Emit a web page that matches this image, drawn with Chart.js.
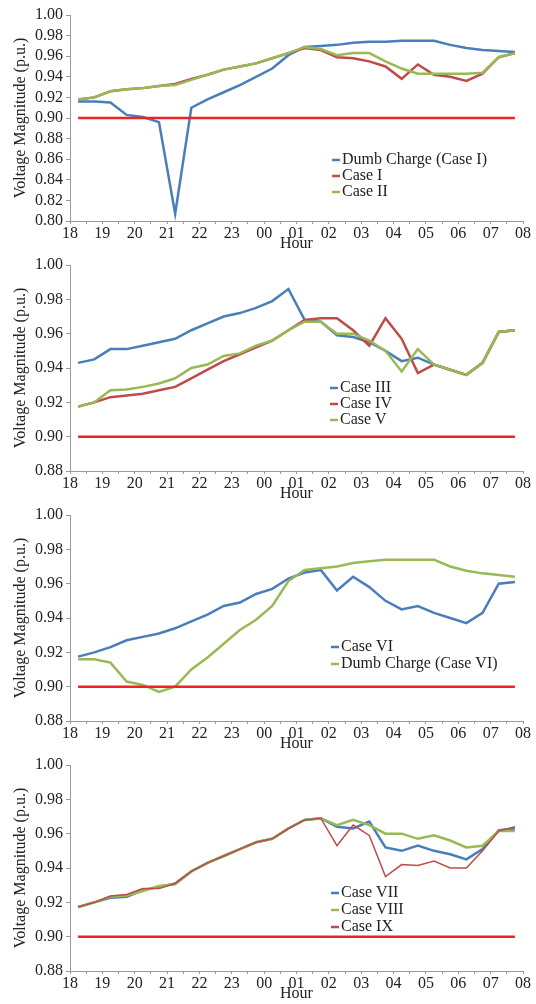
<!DOCTYPE html>
<html>
<head>
<meta charset="utf-8">
<script src="https://cdn.jsdelivr.net/npm/chart.js@4.4.1/dist/chart.umd.min.js"></script>
<style>
html, body { margin: 0; padding: 0; background: #fff; }
.panel { position: absolute; left: 0; width: 536px; height: 250px; }
</style>
</head>
<body>
<div class="panel" style="top:0"><canvas id="c1" width="536" height="250"></canvas></div>
<div class="panel" style="top:250px"><canvas id="c2" width="536" height="250"></canvas></div>
<div class="panel" style="top:500px"><canvas id="c3" width="536" height="250"></canvas></div>
<div class="panel" style="top:750px"><canvas id="c4" width="536" height="250"></canvas></div>
<script>
// x axis: one label per hour, data every half hour
const hourLabels = ['18','19','20','21','22','23','00','01','02','03','04','05','06','07','08'];
const limitLevel = 0.90;

// panel 1
const dumbCase1 = [0.916,0.916,0.915,0.903,0.901,0.896,0.807,0.910,0.918,0.925,0.932,0.940,0.948,0.961,
  0.969,0.970,0.971,0.973,0.974,0.974,0.975,0.975,0.975,0.971,0.968,0.966,0.965,0.964];
const case1 = [0.918,0.920,0.926,0.928,0.929,0.931,0.933,0.938,0.942,0.947,0.950,0.953,0.958,0.963,
  0.968,0.966,0.959,0.958,0.955,0.950,0.938,0.952,0.942,0.940,0.936,0.943,0.959,0.963];
const case2 = [0.918,0.920,0.926,0.928,0.929,0.931,0.932,0.937,0.942,0.947,0.950,0.953,0.958,0.963,
  0.969,0.967,0.961,0.963,0.963,0.955,0.948,0.943,0.943,0.943,0.943,0.944,0.959,0.963];

// panel 2
const case3 = [0.943,0.945,0.951,0.951,0.953,0.955,0.957,0.962,0.966,0.970,0.972,0.975,0.979,0.986,
  0.968,0.967,0.959,0.958,0.955,0.950,0.944,0.946,0.942,0.939,0.936,0.943,0.961,0.962];
const case4 = [0.9175,0.920,0.923,0.924,0.925,0.927,0.929,0.934,0.939,0.944,0.948,0.952,0.956,0.962,
  0.968,0.969,0.969,0.962,0.953,0.969,0.957,0.937,0.942,0.939,0.936,0.943,0.961,0.962];
const case5 = [0.9175,0.920,0.927,0.9275,0.929,0.931,0.934,0.940,0.942,0.947,0.9485,0.953,0.956,0.962,
  0.967,0.967,0.960,0.960,0.956,0.950,0.938,0.951,0.942,0.939,0.936,0.943,0.961,0.962];

// panel 3
const case6 = [0.9175,0.920,0.923,0.927,0.929,0.931,0.934,0.938,0.942,0.947,0.949,0.954,0.957,0.963,
  0.9665,0.968,0.956,0.964,0.958,0.950,0.945,0.947,0.943,0.940,0.937,0.943,0.960,0.961];
const dumbCase6 = [0.916,0.916,0.914,0.903,0.901,0.897,0.900,0.910,0.917,0.925,0.933,0.939,0.947,0.9615,
  0.968,0.969,0.970,0.972,0.973,0.974,0.974,0.974,0.974,0.970,0.9675,0.966,0.965,0.964];

// panel 4
const case7 = [0.9173,0.920,0.9227,0.9233,0.927,0.929,0.931,0.938,0.943,0.947,0.951,0.955,0.957,0.963,
  0.968,0.969,0.964,0.963,0.967,0.952,0.950,0.953,0.950,0.948,0.945,0.951,0.962,0.963];
const case8 = [0.9173,0.920,0.9233,0.924,0.9266,0.9295,0.9305,0.938,0.943,0.947,0.951,0.955,0.957,0.963,
  0.968,0.969,0.965,0.968,0.965,0.960,0.960,0.957,0.959,0.956,0.952,0.953,0.9615,0.9615];
const case9 = [0.9173,0.920,0.9237,0.9246,0.928,0.928,0.931,0.938,0.943,0.947,0.951,0.955,0.957,0.963,
  0.968,0.969,0.953,0.965,0.959,0.935,0.942,0.9415,0.944,0.940,0.940,0.950,0.9615,0.964];

const BLUE = '#4a7ebb';
const RED = '#be4b48';
const GREEN = '#98b954';
const LIMIT = '#ee2226';
const SERIF = '"Liberation Serif", "Times New Roman", serif';

// half-hour positions on the hour axis
const xs = dumbCase1.map((v, i) => 0.25 + i * 0.5);

function toPoints(arr) {
  return arr.map((v, i) => ({ x: xs[i], y: v }));
}

// legend drawn inside the plot, like the original
const insideLegend = {
  id: 'insideLegend',
  afterDraw(chart, args, opts) {
    const ctx = chart.ctx;
    ctx.save();
    ctx.font = '16px ' + SERIF;
    ctx.textBaseline = 'middle';
    chart.data.datasets.forEach((ds, k) => {
      if (!ds.label) return;
      const y = opts.y + k * opts.gap;
      ctx.strokeStyle = ds.borderColor;
      ctx.lineWidth = 2.5;
      ctx.beginPath();
      ctx.moveTo(opts.x, y);
      ctx.lineTo(opts.x + 8, y);
      ctx.stroke();
      ctx.fillStyle = '#222';
      ctx.fillText(ds.label, opts.x + 10, y);
    });
    ctx.restore();
  }
};

function makeChart(id, yMin, series, legend) {
  const n = series.length;
  const datasets = series.map((s, k) => ({
    label: s.label,
    data: toPoints(s.data),
    borderColor: s.color,
    backgroundColor: s.color,
    borderWidth: s.width || 2.5,
    pointRadius: 0,
    tension: 0,
    order: n - k + 1
  }));
  datasets.push({
    label: '',
    data: [{ x: xs[0], y: limitLevel }, { x: xs[xs.length - 1], y: limitLevel }],
    borderColor: LIMIT,
    borderWidth: 2.5,
    pointRadius: 0,
    order: 0
  });

  return new Chart(document.getElementById(id), {
    type: 'line',
    data: { datasets: datasets },
    plugins: [insideLegend],
    options: {
      responsive: false,
      animation: false,
      layout: { padding: { top: 15, right: 13, left: 0, bottom: 0 } },
      plugins: {
        legend: { display: false },
        tooltip: { enabled: false },
        insideLegend: legend
      },
      scales: {
        x: {
          type: 'linear',
          min: 0,
          max: 14,
          afterFit: function (s) { s.height = 29; },
          border: { color: '#999', width: 1 },
          grid: { drawOnChartArea: false, tickLength: 3, color: '#999' },
          ticks: {
            stepSize: 0.5,
            autoSkip: false,
            maxRotation: 0,
            padding: 0,
            color: '#222',
            font: { family: SERIF, size: 16 },
            callback: function (v) {
              const r = Math.round(v);
              return Math.abs(v - r) < 1e-6 ? hourLabels[r] : '';
            }
          },
          title: {
            display: true,
            text: 'Hour',
            color: '#222',
            padding: { top: 0, bottom: -2 },
            font: { family: SERIF, size: 16, lineHeight: 1 }
          }
        },
        y: {
          min: yMin,
          max: 1.0,
          afterFit: function (s) { s.width = 70; },
          border: { color: '#999', width: 1 },
          grid: { drawOnChartArea: false, tickLength: 4, color: '#999' },
          ticks: {
            stepSize: 0.02,
            autoSkip: false,
            padding: 3,
            color: '#222',
            font: { family: SERIF, size: 16 },
            callback: function (v) { return v.toFixed(2); }
          },
          title: {
            display: true,
            text: 'Voltage Magnitude (p.u.)',
            color: '#222',
            padding: { top: 11, bottom: 0 },
            font: { family: SERIF, size: 16 }
          }
        }
      }
    }
  });
}

makeChart('c1', 0.80, [
  { label: 'Dumb Charge (Case I)', data: dumbCase1, color: BLUE },
  { label: 'Case I', data: case1, color: RED },
  { label: 'Case II', data: case2, color: GREEN }
], { x: 332, y: 160, gap: 16 });

makeChart('c2', 0.88, [
  { label: 'Case III', data: case3, color: BLUE },
  { label: 'Case IV', data: case4, color: RED },
  { label: 'Case V', data: case5, color: GREEN }
], { x: 330, y: 138, gap: 16 });

makeChart('c3', 0.88, [
  { label: 'Case VI', data: case6, color: BLUE },
  { label: 'Dumb Charge (Case VI)', data: dumbCase6, color: GREEN }
], { x: 331, y: 147, gap: 17 });

makeChart('c4', 0.88, [
  { label: 'Case VII', data: case7, color: BLUE },
  { label: 'Case VIII', data: case8, color: GREEN },
  { label: 'Case IX', data: case9, color: RED, width: 1.5 }
], { x: 331, y: 143, gap: 17 });
</script>
</body>
</html>
